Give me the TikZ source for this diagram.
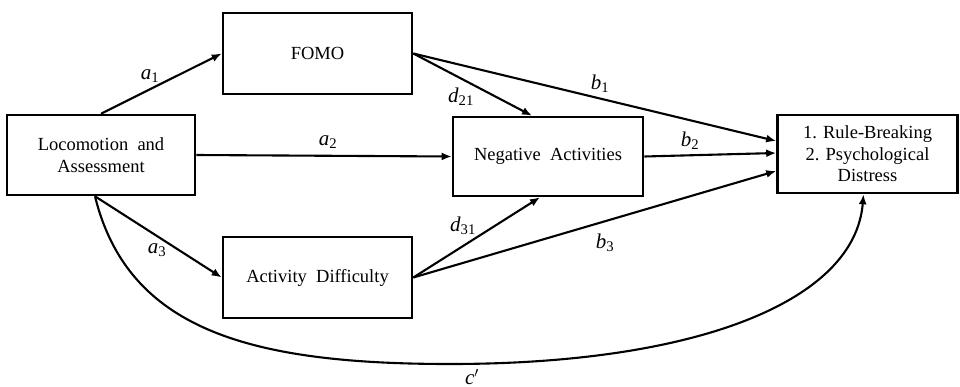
\documentclass[tikz,border=0pt]{standalone}
\usepackage{fontspec}
\setmainfont{Liberation Serif}
\usetikzlibrary{arrows.meta}
\begin{document}
\begin{tikzpicture}[x=1pt,y=-1pt,
  box/.style={draw, line width=2.6pt, inner sep=0pt, align=center,
    font=\fontsize{18.5}{21.5}\selectfont},
  arr/.style={line width=2.1pt, -{Latex[length=10pt,width=8pt]}},
  lab/.style={font=\fontsize{21}{23}\selectfont, inner sep=0pt}]
\useasboundingbox (0,0) rectangle (960,386);
% boxes
\node[box, minimum width=188pt, minimum height=80pt] (loc) at (101,155) {Locomotion\ \ and\\Assessment};
\node[box, minimum width=189pt, minimum height=81pt] (fomo) at (317.5,53.5) {FOMO};
\node[box, minimum width=190pt, minimum height=79pt] (neg) at (548,156.5) {Negative\ \ Activities};
\node[box, minimum width=180pt, minimum height=78pt] (out) at (867.5,154) {1. Rule-Breaking\\2. Psychological\\Distress};
\node[box, minimum width=189pt, minimum height=81pt] (ad) at (317.5,277.5) {Activity\ \ Difficulty};
% start coordinates
\coordinate (locs) at ([xshift=-6pt]loc.south);
% arrows
\draw[arr] (loc.north) -- (fomo.west);
\draw[arr] (loc.east) -- (neg.west);
\draw[arr] (locs) -- (ad.west);
\draw[arr] (fomo.east) -- ([xshift=-16pt]neg.north);
\draw[arr] (fomo.east) -- ([yshift=13pt]out.west);
\draw[arr] (neg.east) -- ([yshift=1pt]out.west);
\draw[arr] (ad.east) -- ([yshift=-17pt]out.west);
\draw[arr] (ad.east) -- ([xshift=-8pt]neg.south);
\draw[arr] (locs) .. controls (128,330) and (250,364) .. (450,364)
   .. controls (700,364) and (855,300) .. ([xshift=-4pt]out.south);
% labels
\node[lab] (la1) at (150,76) {\textit{a}\textsubscript{1}};
\node[lab] (la2) at (328,142) {\textit{a}\textsubscript{2}};
\node[lab] (la3) at (157,250) {\textit{a}\textsubscript{3}};
\node[lab] (lb1) at (600,84) {\textit{b}\textsubscript{1}};
\node[lab] (lb2) at (690,141) {\textit{b}\textsubscript{2}};
\node[lab] (lb3) at (605,243) {\textit{b}\textsubscript{3}};
\node[lab] (ld21) at (461,97) {\textit{d}\textsubscript{21}};
\node[lab] (ld31) at (463,226) {\textit{d}\textsubscript{31}};
\node[lab] (lc) at (472,377) {\textit{c}$'$};
\end{tikzpicture}
\end{document}
